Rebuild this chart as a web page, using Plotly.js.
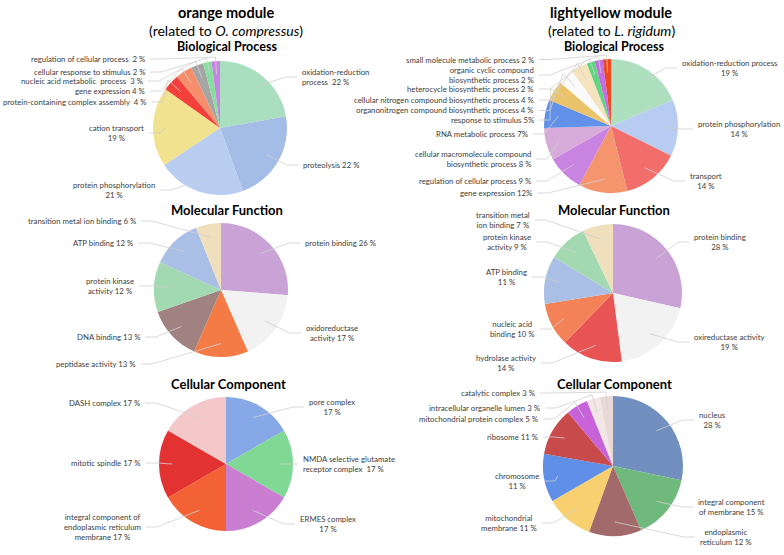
<!DOCTYPE html>
<html>
<head>
<meta charset="utf-8">
<script src="https://cdn.plot.ly/plotly-3.0.1.min.js"></script>
<style>
	html, body { margin: 0; padding: 0; background: #fff; }
	#chart { width: 784px; height: 555px; }
</style>
</head>
<body>
<div id="chart"></div>
<script>
const W = 784;
const H = 555;
const FONT = 'Lato, "Liberation Sans", sans-serif';
const TEXT_COLOR = '#404040';

/**
 * Data - orange module (related to O. compressus)
 */
const orangeBpNames = [ 'oxidation-reduction process', 'proteolysis', 'protein phosphorylation', 'cation transport',
	'protein-containing complex assembly', 'gene expression', 'nucleic acid metabolic process',
	'cellular response to stimulus', 'regulation of cellular process' ];
const orangeBpValues = [ 22, 22, 21, 19, 4, 4, 3, 2, 2 ];
const orangeBpText = [ 'oxidation-reduction<br>process  22 %', 'proteolysis 22 %', 'protein phosphorylation<br>21 %',
	'cation transport<br>19 %', 'protein-containing complex assembly  4 %', 'gene expression 4 %',
	'nucleic acid metabolic  process  3 %', 'cellular response to stimulus 2 %', 'regulation of cellular process  2 %' ];

const orangeMfNames = [ 'protein binding', 'oxidoreductase activity', 'peptidase activity', 'DNA binding',
	'protein kinase activity', 'ATP binding', 'transition metal ion binding' ];
const orangeMfValues = [ 26, 17, 13, 13, 12, 12, 6 ];
const orangeMfText = [ 'protein binding 26 %', 'oxidoreductase<br>activity 17 %', 'peptidase activity 13 %',
	'DNA binding 13 %', 'protein kinase<br>activity 12 %', 'ATP binding 12 %', 'transition metal ion binding 6 %' ];

const orangeCcNames = [ 'pore complex', 'NMDA selective glutamate receptor complex', 'ERMES complex',
	'integral component of endoplasmic reticulum membrane', 'mitotic spindle', 'DASH complex' ];
const orangeCcValues = [ 17, 17, 17, 17, 17, 17 ];
const orangeCcText = [ 'pore complex<br>17 %', 'NMDA selective glutamate<br>receptor complex  17 %', 'ERMES complex<br>17 %',
	'integral component of<br>endoplasmic reticulum<br>membrane 17 %', 'mitotic spindle 17 %', 'DASH complex 17 %' ];

/**
 * Data - lightyellow module (related to L. rigidum)
 */
const lightBpNames = [ 'oxidation-reduction process', 'protein phosphorylation', 'transport', 'gene expression',
	'regulation of cellular process', 'cellular macromolecule compound biosynthetic process', 'RNA metabolic process',
	'response to stimulus', 'organonitrogen compound biosynthetic process', 'cellular nitrogen compound biosynthetic process',
	'heterocycle biosynthetic process', 'organic cyclic compound biosynthetic process', 'small molecule metabolic process' ];
const lightBpValues = [ 19, 14, 14, 12, 9, 8, 7, 5, 4, 4, 2, 2, 2 ];
const lightBpText = [ 'oxidation-reduction process<br>19 %', 'protein phosphorylation<br>14 %', 'transport<br>14 %',
	'gene expression 12%', 'regulation of cellular process 9 %', 'cellular macromolecule compound<br>biosynthetic process 8 %',
	'RNA metabolic process 7%', 'response to stimulus 5%', 'organonitrogen compound biosynthetic process 4 %',
	'cellular nitrogen compound biosynthetic process 4 %', 'heterocycle biosynthetic process 2 %',
	'organic cyclic compound<br>biosynthetic process 2 %', 'small molecule metabolic process 2 %' ];

const lightMfNames = [ 'protein binding', 'oxireductase activity', 'hydrolase activity', 'nucleic acid binding',
	'ATP binding', 'protein kinase activity', 'transition metal ion binding' ];
const lightMfValues = [ 28, 19, 14, 10, 11, 9, 7 ];
const lightMfText = [ 'protein binding<br>28 %', 'oxireductase activity<br>19 %', 'hydrolase activity<br>14 %',
	'nucleic acid<br>binding 10 %', 'ATP binding<br>11 %', 'protein kinase<br>activity 9 %', 'transition metal<br>ion binding 7 %' ];

const lightCcNames = [ 'nucleus', 'integral component of membrane', 'endoplasmic reticulum', 'mitochondrial membrane',
	'chromosome', 'ribosome', 'mitochondrial protein complex', 'intracellular organelle lumen', 'catalytic complex' ];
const lightCcValues = [ 28, 15, 12, 11, 11, 11, 5, 3, 3 ];
const lightCcText = [ 'nucleus<br>28 %', 'integral component<br>of membrane 15 %', 'endoplasmic<br>reticulum 12 %',
	'mitochondrial<br>membrane 11 %', 'chromosome<br>11 %', 'ribosome 11 %', 'mitochondrial protein complex 5 %',
	'intracellular organelle lumen 3 %', 'catalytic complex 3 %' ];

/**
 * Styles - slice colours (clockwise from 12 o'clock)
 */
const orangeBpColors = [ '#a9dfbf', '#a4bde6', '#b9cdf1', '#f0e28e', '#f4403a', '#f68e6c', '#a5a5a5', '#86df9e', '#c785e3' ];
const orangeMfColors = [ '#c9a3d6', '#f2f2f2', '#f47a46', '#a08380', '#a3d9b1', '#a9bfe6', '#efdfbd' ];
const orangeCcColors = [ '#86a8e6', '#80d895', '#c97ed2', '#f26234', '#e23232', '#f4c8c8' ];
const lightBpColors = [ '#aee0c0', '#b8cbf0', '#f26e6b', '#f5956e', '#c983e0', '#d7abd9', '#6191e8', '#ebc36a',
	'#fafafa', '#f6e3bd', '#5fd680', '#c56ee3', '#f0471f' ];
const lightMfColors = [ '#c9a3d6', '#f2f2f2', '#e85354', '#f38258', '#a9bfe6', '#a3d9b1', '#efdfbd' ];
const lightCcColors = [ '#7190bf', '#70b97d', '#a26a6a', '#f8d070', '#5f8fe6', '#c94a4a', '#c762d8', '#f5e6e6', '#e8d9d5' ];

/**
 * Layout - pie geometry (pixels) and label anchors: [ edge x, centre y, side, align ]
 * side 'l' = label sits left of pie (text right-aligned), 'r' = right of pie
 */
const pies = [
	{
		names: orangeBpNames, values: orangeBpValues, text: orangeBpText, colors: orangeBpColors,
		cx: 220, cy: 128, r: 67,
		labels: [ [ 300, 77, 'r', 'left' ], [ 301, 165, 'r' ], [ 157, 190, 'l', 'center' ], [ 146, 133, 'l', 'center' ],
			[ 149, 102, 'l' ], [ 147, 91, 'l' ], [ 145, 81, 'l' ], [ 147, 72, 'l' ], [ 147, 59, 'l' ] ],
	},
	{
		names: orangeMfNames, values: orangeMfValues, text: orangeMfText, colors: orangeMfColors,
		cx: 221, cy: 290, r: 67,
		labels: [ [ 303, 243, 'r' ], [ 304, 333, 'r', 'center' ], [ 138, 364, 'l' ], [ 142, 337, 'l' ],
			[ 136, 286, 'l', 'center' ], [ 135, 243, 'l' ], [ 138, 221, 'l' ] ],
	},
	{
		names: orangeCcNames, values: orangeCcValues, text: orangeCcText, colors: orangeCcColors,
		cx: 226, cy: 464, r: 67,
		labels: [ [ 307, 407, 'r', 'center' ], [ 301, 464, 'r', 'left' ], [ 298, 524, 'r', 'center' ],
			[ 143, 527, 'l', 'center' ], [ 143, 463, 'l' ], [ 142, 403, 'l' ] ],
	},
	{
		names: lightBpNames, values: lightBpValues, text: lightBpText, colors: lightBpColors,
		cx: 611, cy: 126, r: 67,
		labels: [ [ 680, 68, 'r', 'center' ], [ 696, 129, 'r', 'center' ], [ 688, 181, 'r', 'center' ], [ 534, 193, 'l' ],
			[ 533, 181, 'l' ], [ 533, 159, 'l', 'right' ], [ 530, 134, 'l' ], [ 536, 120, 'l' ], [ 536, 110.5, 'l' ],
			[ 536, 100, 'l' ], [ 536, 89, 'l' ], [ 536, 75, 'l', 'right' ], [ 536, 59.5, 'l' ] ],
	},
	{
		names: lightMfNames, values: lightMfValues, text: lightMfText, colors: lightMfColors,
		cx: 613, cy: 293, r: 69,
		labels: [ [ 692, 242, 'r', 'center' ], [ 692, 342, 'r', 'center' ], [ 538, 363, 'l', 'center' ],
			[ 537, 329, 'l', 'center' ], [ 529, 277, 'l', 'center' ], [ 533, 242, 'l', 'center' ], [ 532, 220, 'l', 'center' ] ],
	},
	{
		names: lightCcNames, values: lightCcValues, text: lightCcText, colors: lightCcColors,
		cx: 613, cy: 466, r: 70,
		labels: [ [ 697, 420, 'r', 'center' ], [ 696, 507, 'r', 'center' ], [ 698, 537, 'r', 'center' ],
			[ 539, 523, 'l', 'center' ], [ 541, 481, 'l', 'center' ], [ 540, 437, 'l' ], [ 540, 419, 'l' ],
			[ 542, 408, 'l' ], [ 537, 393, 'l' ] ],
	},
];

// titles: [ text, centre x, centre y, size ]
const titles = [
	[ '<b>orange module</b>', 226, 13, 14.5 ],
	[ '(related to <i>O. compressus</i>)', 226, 31, 14 ],
	[ '<b>Biological Process</b>', 227, 46, 12.5 ],
	[ '<b>Molecular Function</b>', 227, 210, 13 ],
	[ '<b>Cellular Component</b>', 228, 384, 13 ],
	[ '<b>lightyellow module</b>', 611, 13, 14.5 ],
	[ '(related to <i>L. rigidum</i>)', 611, 31, 14 ],
	[ '<b>Biological Process</b>', 614, 46, 12.5 ],
	[ '<b>Molecular Function</b>', 614, 210, 13 ],
	[ '<b>Cellular Component</b>', 614, 384, 13 ],
];

const px = ( x ) => x / W;
const py = ( y ) => 1 - y / H;

/**
 * Build traces, label annotations and leader lines
 */
const data = [];
const annotations = [];
const shapes = [];

pies.forEach(( pie ) => {
	data.push({
		type: 'pie',
		labels: pie.names,
		values: pie.values,
		sort: false,
		direction: 'clockwise',
		rotation: 0,
		textinfo: 'none',
		hoverinfo: 'label+percent',
		showlegend: false,
		marker: { colors: pie.colors, line: { width: 0 } },
		domain: {
			x: [ px(pie.cx - pie.r), px(pie.cx + pie.r) ],
			y: [ py(pie.cy + pie.r), py(pie.cy - pie.r) ],
		},
	});

	const total = pie.values.reduce(( a, b ) => a + b, 0);
	let cum = 0;

	pie.values.forEach(( v, i ) => {
		const mid = ( cum + v / 2 ) / total * 2 * Math.PI;
		cum += v;
		const [ lx, ly, side, align ] = pie.labels[i];
		const dir = side === 'l' ? -1 : 1;

		annotations.push({
			xref: 'paper', yref: 'paper',
			x: px(lx), y: py(ly),
			xanchor: side === 'l' ? 'right' : 'left',
			yanchor: 'middle',
			align: align || ( side === 'l' ? 'right' : 'left' ),
			showarrow: false,
			text: pie.text[i],
			font: { family: FONT, size: 7.8, color: TEXT_COLOR },
		});

		// leader line: inside slice -> (outside rim for thin slices) -> elbow -> label
		const sx = pie.cx + 0.8 * pie.r * Math.sin(mid);
		const sy = pie.cy - 0.8 * pie.r * Math.cos(mid);
		const ex = lx - dir * 14;
		const endX = lx - dir * 3;
		let path = `M${px(sx)},${py(sy)}`;
		if ( v / total < 0.06 ) {
			const ox = pie.cx + 1.06 * pie.r * Math.sin(mid);
			const oy = pie.cy - 1.06 * pie.r * Math.cos(mid);
			path += ` L${px(ox)},${py(oy)}`;
		}
		path += ` L${px(ex)},${py(ly)} L${px(endX)},${py(ly)}`;
		shapes.push({
			type: 'path', xref: 'paper', yref: 'paper', path,
			line: { color: '#cfcfcf', width: 0.8 },
			layer: 'above',
		});
	});
});

titles.forEach(( [ text, x, y, size ] ) => {
	annotations.push({
		xref: 'paper', yref: 'paper',
		x: px(x), y: py(y),
		xanchor: 'center', yanchor: 'middle',
		showarrow: false,
		text,
		font: { family: FONT, size, color: '#000' },
	});
});

const layout = {
	width: W,
	height: H,
	margin: { l: 0, r: 0, t: 0, b: 0 },
	paper_bgcolor: '#fff',
	showlegend: false,
	annotations,
	shapes,
};

Plotly.newPlot('chart', data, layout, { displayModeBar: false });
</script>
</body>
</html>
